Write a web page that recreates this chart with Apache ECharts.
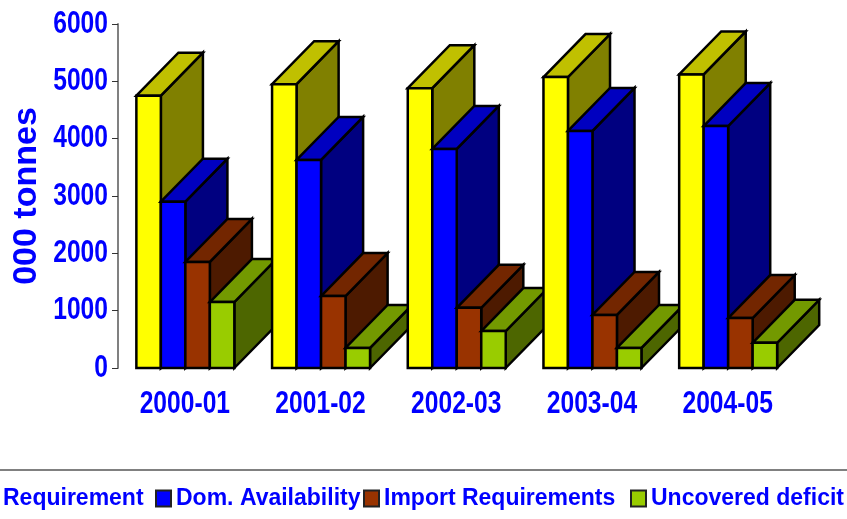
<!DOCTYPE html>
<html>
<head>
<meta charset="utf-8">
<style>html,body{margin:0;padding:0;background:#fff}#c{width:847px;height:519px}</style>
<script src="https://cdn.jsdelivr.net/npm/echarts@6/dist/echarts.min.js"></script>
</head>
<body>
<div id="c"></div>
<script>
var categories = ['2000-01','2001-02','2002-03','2003-04','2004-05'];
var requirement = [4750,4950,4880,5075,5120];
var domAvailability = [2900,3630,3820,4135,4220];
var importRequirements = [1850,1255,1050,925,870];
var uncoveredDeficit = [1150,350,645,350,440];
var yTickValues = [0,1000,2000,3000,4000,5000,6000];
var seriesNames = ['Requirement','Dom. Availability','Import Requirements','Uncovered deficit'];
var seriesValues = [requirement,domAvailability,importRequirements,uncoveredDeficit];
var palette = [
  {front:'#FFFF00',top:'#C0C000',side:'#808000'},
  {front:'#0000FF',top:'#0000C0',side:'#000080'},
  {front:'#993300',top:'#732600',side:'#4D1A00'},
  {front:'#99CC00',top:'#739900',side:'#4D6600'}
];
var BLUE='#0000FF', FONT='"Liberation Sans",Arial,sans-serif';
var LABEL_SIZE=32, SQUEEZE=0.77;
var chart = echarts.init(document.getElementById('c'),null,{renderer:'canvas'});

function makeRender(si){
  return function(params,api){
    var cat=api.value(0), val=api.value(1);
    var base=api.coord([cat,0]), topP=api.coord([cat,val]);
    var band=api.size([1,0])[0];
    var w=band*0.1805, dx=band*0.31, dy=api.size([0,750])[1];
    var x0=base[0]-2*w+si*w-0.5, x1=x0+w, yb=base[1], yt=topP[1];
    var line={stroke:'#000',lineWidth:2.5,lineJoin:'miter'};
    var z2=cat*10+si;
    function poly(pts,fill){return {type:'polygon',z2:z2,shape:{points:pts},style:Object.assign({fill:fill},line)};}
    return {type:'group',children:[
      poly([[x1,yb],[x1+dx,yb-dy],[x1+dx,yt-dy],[x1,yt]],palette[si].side),
      poly([[x0,yt],[x0+dx,yt-dy],[x1+dx,yt-dy],[x1,yt]],palette[si].top),
      poly([[x0,yb],[x1,yb],[x1,yt],[x0,yt]],palette[si].front)
    ]};
  };
}
function squeezedText(x,y,text,align){
  return {type:'text',x:x,y:y,scaleX:SQUEEZE,silent:true,
    style:{text:text,fill:BLUE,align:align,verticalAlign:'middle',
      font:'bold '+LABEL_SIZE+'px '+FONT}};
}
var legendLefts=[-18,155,363,630];
var barSeries=seriesNames.map(function(n,i){return {
  name:n,type:'custom',clip:false,renderItem:makeRender(i),
  data:categories.map(function(c,k){return [k,seriesValues[i][k]];}),
  encode:{x:0,y:1},
  itemStyle:{color:palette[i].front}
};});
chart.setOption({
  animation:false,
  backgroundColor:'#fff',
  grid:{left:118,top:24,width:678.5,height:344,containLabel:false,outerBoundsMode:'none'},
  legend:seriesNames.map(function(n,i){return {
    data:[{name:n,icon:'rect',itemStyle:{color:palette[i].front,borderColor:'#222',borderWidth:2}}],
    left:legendLefts[i],top:487,itemWidth:15,itemHeight:16,padding:0,selectedMode:false,
    textStyle:{color:BLUE,fontFamily:FONT,fontWeight:'bold',fontSize:23}
  };}),
  xAxis:{type:'category',data:categories,axisLine:{show:false},axisTick:{show:false},axisLabel:{show:false}},
  yAxis:{type:'value',min:0,max:6000,interval:1000,
    name:'000 tonnes',nameLocation:'middle',nameGap:74,nameRotate:90,
    nameTextStyle:{color:BLUE,fontFamily:FONT,fontWeight:'bold',fontSize:34},
    axisLine:{show:true,lineStyle:{color:'#808080',width:2}},
    axisTick:{show:true,length:6,lineStyle:{color:'#333',width:1}},
    splitLine:{show:false},axisLabel:{show:false}},
  graphic:[{type:'line',silent:true,shape:{x1:0,y1:470,x2:847,y2:470},style:{stroke:'#808080',lineWidth:2}}],
  series:barSeries.concat([
    {type:'custom',name:'xLabels',clip:false,silent:true,encode:{x:0,y:1},
     data:categories.map(function(c,k){return [k,0];}),
     renderItem:function(p,api){var c=api.coord([api.value(0),0]);
       return squeezedText(c[0]-1,c[1]+36,categories[api.value(0)],'center');}},
    {type:'custom',name:'yLabels',clip:false,silent:true,encode:{x:0,y:1},
     data:yTickValues.map(function(v){return [0,v];}),
     renderItem:function(p,api){var c=api.coord([0,api.value(1)]);
       return squeezedText(p.coordSys.x-10,c[1],String(api.value(1)),'right');}}
  ])
});
</script>
</body>
</html>
